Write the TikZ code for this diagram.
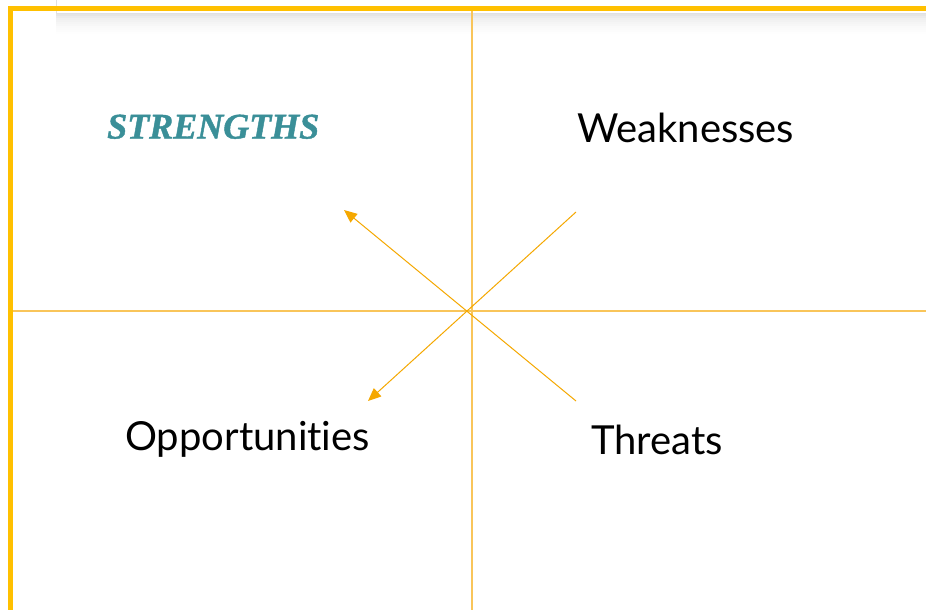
\documentclass[tikz,border=0pt]{standalone}
\usepackage{fontspec}
\setmainfont[Ligatures=NoCommon]{Lato}
\newfontfamily\serifbi[BoldItalicFeatures={FakeBold=1.2}]{Liberation Serif}
\usetikzlibrary{arrows.meta}
\definecolor{gold}{HTML}{FFC000}
\definecolor{lightgold}{HTML}{F9C55A}
\definecolor{arrowgold}{HTML}{F5A800}
\definecolor{teal}{HTML}{3A8F98}
\tikzset{
  grid/.style={draw=lightgold, line width=1.2pt},
  frame/.style={draw=gold, line width=5pt},
  swotarrow/.style={draw=arrowgold, line width=1pt, -{Triangle[length=13pt,width=11pt]}},
  label/.style={inner sep=0pt, anchor=base west, font=\fontsize{40}{46}\selectfont},
}
\begin{document}
\begin{tikzpicture}[x=1pt,y=-1pt]
\useasboundingbox (0,0) rectangle (926,610);
\fill[white] (0,0) rectangle (926,610);
% shadowed panel at top
\foreach \i/\o in {0/0.10,1/0.08,2/0.06,3/0.05,4/0.04,5/0.03,6/0.02,7/0.015,8/0.01,9/0.005}{
  \fill[black, opacity=\o] (56,14+2*\i) rectangle (926,16+2*\i);
}
\draw[black!12, line width=1pt] (56,0) -- (56,14) -- (926,14);
% grid
\coordinate (vt) at (472,8);
\coordinate (vb) at (472,610);
\coordinate (hl) at (10,311);
\coordinate (hr) at (926,311);
\draw[grid] (vt) -- (vb);
\draw[grid] (hl) -- (hr);
% frame
\coordinate (ftl) at (10.5,8.5);
\coordinate (ftr) at (926,8.5);
\coordinate (fbl) at (10.5,610);
\draw[frame] (fbl) -- (ftl) -- (ftr);
% arrows
\coordinate (a1s) at (576,401);
\coordinate (a1e) at (344,210);
\coordinate (a2s) at (576,212);
\coordinate (a2e) at (368,401);
\draw[swotarrow] (a1s) -- (a1e);
\draw[swotarrow] (a2s) -- (a2e);
% labels
\node[inner sep=0pt, anchor=base west, text=teal, font=\serifbi\bfseries\itshape\fontsize{36}{40}\selectfont] (s) at (107,138.5) {STRENGTHS};
\node[label] (w) at (577,142.5) {Weaknesses};
\node[label] (o) at (125,450) {Opportunities};
\node[label] (t) at (591,454.5) {Threats};
\end{tikzpicture}
\end{document}
